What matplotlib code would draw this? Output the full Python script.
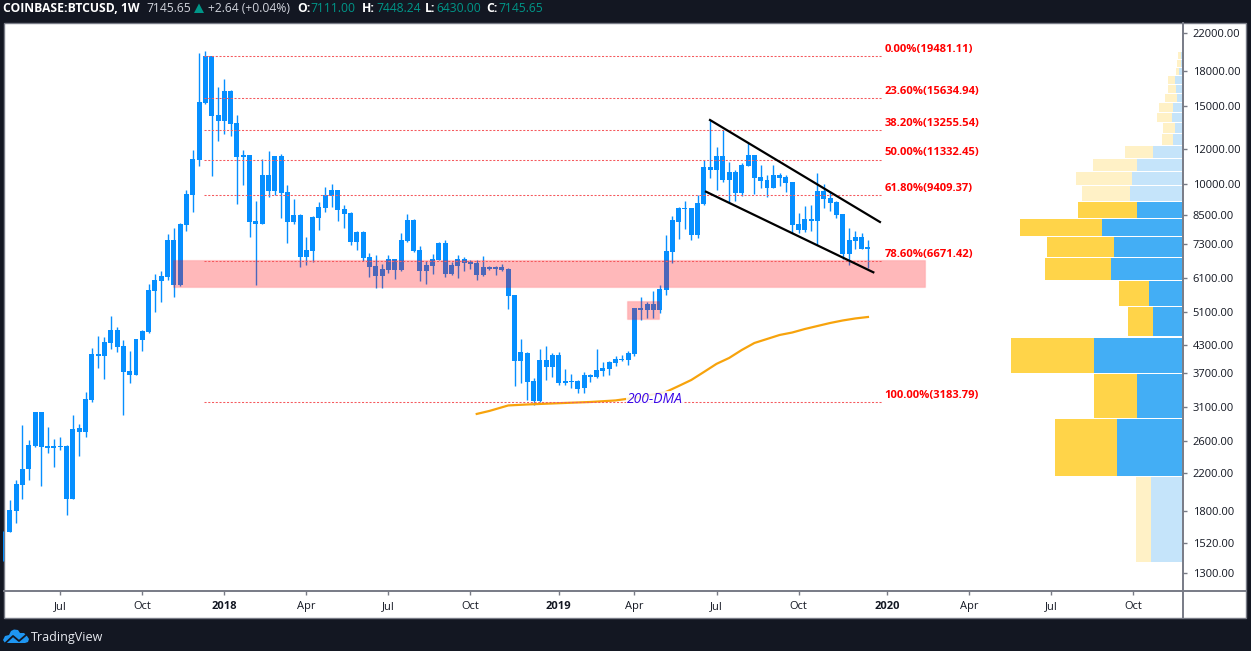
import numpy as np
import matplotlib
matplotlib.use('Agg')
import matplotlib.pyplot as plt
from matplotlib.lines import Line2D
from matplotlib.patches import Polygon, Rectangle
from matplotlib.ticker import FixedLocator, NullLocator, FuncFormatter

W, H = 1251, 651

#candles, all the same colour so only the body and wick ends are kept
body_top = [1600, 1809, 2072, 2242, 2543, 3022, 3022, 2529, 2529, 2533, 2529, 2765, 2779, 3235, 4095, 4095,
            4360, 4643, 4643, 4270, 3746, 4429, 4619, 5725, 6033, 6161, 7439, 7439, 8090, 9466, 11370, 15326,
            19502, 19502, 14317, 16235, 16235, 13730, 11611, 11611, 8218, 10456, 10456, 11550, 11550, 9566, 8480, 8480,
            7059, 8392, 8843, 9417, 9666, 9666, 8751, 8569, 7758, 7758, 6805, 6492, 6391, 6734, 6734, 7439,
            8261, 8261, 7059, 6526, 6734, 7323, 7323, 6526, 6734, 6734, 6629, 6595, 6458, 6458, 6458, 6458,
            6391, 5577, 4138, 4116, 3554, 3968, 3968, 4073, 4073, 3554, 3554, 3554, 3668, 3668, 3765, 3806,
            3927, 3989, 3989, 4116, 5211, 5211, 5320, 5320, 5755, 7022, 8261, 8797, 8797, 8797, 9030, 10904,
            10904, 11550, 11550, 10621, 10621, 11019, 11611, 11611, 10347, 10186, 10456, 10456, 10347, 10080, 8090, 8304,
            8304, 9616, 9616, 9270, 9078, 8525, 7439, 7557, 7557, 7171]
body_bottom = [1600, 1615, 1802, 2065, 2242, 2529, 2516, 2503, 2503, 2516, 1916, 1916, 2721, 2721, 3218, 4052,
               4052, 4337, 4248, 3726, 3668, 3668, 4406, 4595, 5695, 6002, 6128, 5877, 5877, 8048, 9417, 11311,
               15246, 14242, 13874, 13874, 13658, 11490, 11490, 8175, 8090, 8090, 9616, 9616, 9516, 8175, 8175, 6805,
               6805, 7022, 8348, 8797, 9368, 8705, 8525, 7362, 7362, 6770, 6458, 6161, 6161, 6357, 6357, 6357,
               7400, 7022, 6324, 6324, 6492, 6699, 6225, 6225, 6492, 6595, 6560, 6193, 6193, 6391, 6391, 6357,
               5548, 3947, 3947, 3536, 3201, 3201, 3826, 3826, 3517, 3517, 3536, 3409, 3426, 3630, 3630, 3746,
               3786, 3906, 3968, 3968, 4095, 5156, 5156, 5156, 5156, 5725, 6986, 8175, 8751, 7637, 7637, 8983,
               10733, 10733, 10186, 10186, 9516, 9516, 10961, 10293, 10133, 9768, 9768, 10293, 10027, 8048, 7839, 7839,
               8218, 8218, 9222, 9030, 8480, 6913, 6913, 7400, 7096, 7096]
wick_top = [1621, 1906, 2116, 2823, 2610, 3022, 3022, 2794, 2624, 2651, 2543, 2975, 2838, 3357, 4226, 4500,
            4477, 4996, 4716, 4406, 4159, 4429, 4643, 5908, 6225, 6324, 7677, 7922, 8132, 9666, 11919, 19811,
            20020, 19502, 16579, 17288, 16320, 14317, 11919, 11611, 9125, 11370, 11857, 11550, 11672, 9923, 9222, 8525,
            7557, 8436, 9078, 9820, 9975, 9666, 8936, 8614, 7798, 7798, 6949, 6877, 6560, 6877, 6734, 7717,
            8525, 8304, 7209, 6664, 6913, 7362, 7439, 6629, 6877, 6805, 6699, 6699, 6841, 6492, 6492, 6560,
            6424, 5577, 4429, 4138, 3611, 4204, 4270, 4116, 4138, 3786, 3687, 3573, 3726, 3687, 4204, 3927,
            3947, 4052, 4073, 4159, 5211, 5519, 5377, 5695, 5877, 7637, 8436, 8843, 9125, 8797, 9417, 11311,
            13947, 12108, 13235, 11193, 10733, 11135, 12364, 11611, 11019, 10456, 11019, 10566, 10456, 10080, 8569, 8889,
            8936, 10566, 9975, 9616, 9125, 8525, 7922, 7798, 7717, 7448]
wick_bottom = [1385, 1612, 1693, 1916, 2116, 2516, 2051, 2437, 2265, 2476, 1762, 1916, 2399, 2651, 3184, 3806,
               3592, 4204, 4138, 2975, 3517, 3668, 4159, 4571, 5102, 5377, 6033, 5519, 5846, 7798, 8614, 10961,
               15166, 10401, 12494, 12961, 12826, 8983, 9923, 7557, 5877, 8090, 9319, 9417, 8348, 7323, 8090, 6458,
               6526, 6629, 7839, 8614, 8843, 8218, 7922, 7247, 7059, 6664, 6128, 5785, 5785, 6258, 6065, 6324,
               7362, 6986, 6002, 5908, 6225, 6699, 6128, 6193, 6096, 6324, 6391, 6033, 6161, 6357, 6193, 6324,
               5183, 3462, 3517, 3218, 3135, 3184, 3573, 3630, 3481, 3481, 3426, 3338, 3338, 3536, 3611, 3649,
               3668, 3846, 3947, 3866, 4052, 4892, 4945, 4945, 5075, 5577, 6595, 7478, 7881, 7439, 7517, 8936,
               10293, 9666, 10080, 9078, 9125, 9368, 10961, 9466, 9768, 9319, 9768, 9871, 9566, 7717, 7717, 7758,
               7798, 7247, 8797, 8660, 8348, 6734, 6526, 7096, 7096, 6430]
first_week = -1

x_tick_weeks = [8, 21, 34, 47, 60, 73, 87, 99, 112, 125, 139, 152, 165, 178]
x_tick_labels = ['Jul', 'Oct', '2018', 'Apr', 'Jul', 'Oct', '2019', 'Apr', 'Jul', 'Oct', '2020', 'Apr', 'Jul', 'Oct']
y_ticks = [22000, 18000, 15000, 12000, 10000, 8500, 7300, 6100, 5100, 4300, 3700, 3100, 2600, 2200, 1800, 1520, 1300]

#fib levels
fib_names = ['0.00%', '23.60%', '38.20%', '50.00%', '61.80%', '78.60%', '100.00%']
fib_prices = [19481.11, 15634.94, 13255.54, 11332.45, 9409.37, 6671.42, 3183.79]

#200 dma, read every few weeks
dma_weeks = [74, 76, 79, 82, 88, 92, 96, 100, 104, 106, 108, 110, 112, 114, 116, 118, 120, 122, 124, 126, 128, 130, 132, 134, 136]
dma_values = [2991, 3038, 3127, 3143, 3168, 3184, 3210, 3269, 3357, 3462, 3573, 3726, 3888, 4010, 4181, 4337,
              4429, 4523, 4582, 4667, 4741, 4816, 4880, 4932, 4970]

#drawn trend channel
channel_top_weeks = [110.97, 137.9]
channel_top_prices = [13947, 8175]
channel_low_weeks = [110.33, 136.85]
channel_low_prices = [9581, 6281]

#pink boxes
zone_weeks = [[25.9, 145.0], [97.86, 102.9]]
zone_prices = [[5816, 6716], [4918, 5405]]

#volume profile rows
vp_high = [19915, 19098, 18315, 17563, 16753, 15982, 15246, 14468, 13730, 12961, 12172, 11370, 10621, 9871,
           9078, 8304, 7557, 6770, 6002, 5238, 4452, 3693, 2913, 2149]
vp_low = [19198, 18411, 17655, 16841, 16066, 15326, 14544, 13802, 13029, 12235, 11430, 10677, 9923, 9125,
          8348, 7597, 6805, 6033, 5265, 4490, 3712, 2928, 2164, 1380]
vp_up = [1, 1, 3.3, 7.3, 6.3, 5.3, 9, 10, 7, 9, 28.7, 45, 50, 52, 45, 80, 68, 71, 33, 29, 88.3, 45, 65, 31]
vp_down = [2.7, 4, 3, 6.7, 8, 11.7, 14, 15, 12, 11, 28.3, 44, 56, 48, 58.7, 82, 66.7, 66, 29.7, 25, 82.7, 43.3, 62, 14.7]
vp_value_area = [0] * 14 + [1] * 9 + [0]

CANDLE = '#068fff'
GREY = '#787b86'
TEAL = '#009688'
BG = '#131722'

plt.rcParams['font.family'] = ['Open Sans', 'DejaVu Sans']


def px_x(x):
    return x / W


def px_y(y):
    return 1 - y / H


fig = plt.figure(figsize=(W / 100, H / 100), dpi=100, facecolor=BG)

#white panel behind the chart
fig.patches.append(Rectangle((px_x(3.5), px_y(618)), px_x(1246 - 3.5), (618 - 22.5) / H, transform=fig.transFigure,
                             facecolor='white', edgecolor=GREY, linewidth=1, figure=fig, zorder=-1))

# px = 9.8 + 6.31 * week
ax = fig.add_axes([px_x(2.5), px_y(591), px_x(1183 - 2.5), (591 - 23) / H])
ax.patch.set_alpha(0)
ax.set_yscale('log')
ax.set_xlim((2.5 - 9.8) / 6.31, (1183 - 9.8) / 6.31)
ax.set_ylim(1183, 23183)

weeks = np.arange(first_week, first_week + len(body_top))
top = np.array(body_top, dtype=float)
bottom = np.array(body_bottom, dtype=float)
wicks = ax.vlines(weeks, wick_bottom, wick_top, color=CANDLE, linewidth=1.0, zorder=2)
wicks.set_snap(True)
ax.bar(weeks, top - bottom, bottom=bottom, width=0.79, color=CANDLE, linewidth=0, zorder=2)

for (w0, w1), (p0, p1) in zip(zone_weeks, zone_prices):
    ax.add_patch(Rectangle((w0, p0), w1 - w0, p1 - p0, facecolor=(1, 0, 0.03, 0.28), edgecolor=(1, 0, 0.03, 0.1),
                           linewidth=1, zorder=3))

ax.plot(dma_weeks, dma_values, color='#f7a30c', linewidth=1.6, zorder=4)

for name, price in zip(fib_names, fib_prices):
    ax.plot([30.8, 138.2], [price, price], color='#f55a5f', linewidth=0.75, linestyle=(0, (2, 1.6)), zorder=5)
    ax.annotate('%s(%.2f)' % (name, price), (138.6, price), xytext=(0, 4.8), textcoords='offset points',
                color='#ff0000', fontsize=8.1, fontweight='bold', va='center', ha='left', zorder=7)

ax.plot(channel_top_weeks, channel_top_prices, color='black', linewidth=1.6, zorder=6)
ax.plot(channel_low_weeks, channel_low_prices, color='black', linewidth=1.6, zorder=6)

ax.annotate('200-DMA', (97.8, 3183.79), xytext=(0, 2.0), textcoords='offset points', color='#3a06e8', fontsize=10,
            fontstyle='italic', va='center', ha='left', zorder=6,
            bbox=dict(facecolor='white', edgecolor='none', alpha=0.85, pad=0.5))

#volume profile, right aligned on its own x scale (1 unit = 1 px)
vp = ax.twiny()
vp.set_xlim(1182 - 2.5, 1182 - 1183)
vp.set_axis_off()
for up, down, hi, lo, strong in zip(vp_up, vp_down, vp_high, vp_low, vp_value_area):
    vp.barh(lo, up, height=hi - lo, align='edge', color='#43aef5' if strong else '#c5e4fa', linewidth=0)
    vp.barh(lo, down, left=up, height=hi - lo, align='edge', color='#ffd449' if strong else '#fff1c6', linewidth=0)

#axes
ax.yaxis.tick_right()
ax.yaxis.set_major_locator(FixedLocator(y_ticks))
ax.yaxis.set_minor_locator(NullLocator())
ax.yaxis.set_major_formatter(FuncFormatter(lambda v, pos: '%.2f' % v))
ax.set_xticks(x_tick_weeks)
ax.set_xticklabels(x_tick_labels)
ax.tick_params(axis='x', length=3, width=1, color=GREY, labelsize=8, labelcolor=BG, pad=4.5)
ax.tick_params(axis='y', length=3, width=1, color=GREY, labelsize=8, labelcolor=BG, pad=4)
for lab in ax.get_xticklabels():
    if lab.get_text().startswith('20'):
        lab.set_fontweight('bold')
for side in ax.spines:
    ax.spines[side].set_visible(False)

#frame lines of the chart
fig.add_artist(Line2D([px_x(3.5), px_x(1246)], [px_y(591), px_y(591)], color=GREY, linewidth=1.4))
fig.add_artist(Line2D([px_x(1183), px_x(1183)], [px_y(23), px_y(618)], color=GREY, linewidth=1.4))

#header
LIGHT = '#d1d4dc'
header = [(3, 'COINBASE:BTCUSD, 1W', 'white', 'bold'), (146, '7145.65', LIGHT, 'normal'),
          (208, '+2.64 (+0.04%)', LIGHT, 'normal'), (297, 'O:', 'white', 'bold'), (310, '7111.00', TEAL, 'normal'),
          (362, 'H:', 'white', 'bold'), (376, '7448.24', TEAL, 'normal'), (425, 'L:', 'white', 'bold'),
          (436, '6430.00', TEAL, 'normal'), (486, 'C:', 'white', 'bold'), (498, '7145.65', TEAL, 'normal')]
for x, s, c, fw in header:
    fig.text(px_x(x), px_y(8.5), s, color=c, fontweight=fw, fontsize=8.7, va='center', ha='left')
fig.patches.append(Polygon([(px_x(194), px_y(13)), (px_x(204), px_y(13)), (px_x(199), px_y(3.5))],
                           transform=fig.transFigure, facecolor=TEAL, edgecolor='none', figure=fig))

#footer logo
cloud = [(3, 640), (5, 636), (9, 635), (11, 631), (14, 629.5), (18, 630), (20, 633), (24, 633), (27, 636), (29, 639),
         (28, 642), (25, 643), (5, 643)]
fig.patches.append(Polygon([(px_x(a), px_y(b)) for a, b in cloud], transform=fig.transFigure, facecolor='#1e96f2',
                           edgecolor='none', figure=fig))
fig.add_artist(Line2D([px_x(a) for a in (5, 13, 19, 26)], [px_y(b) for b in (643.5, 636, 641, 635)], color=BG, linewidth=1.3))
fig.text(px_x(31), px_y(637), 'TradingView', color='#e8eaf0', fontsize=9, va='center', ha='left')

fig.savefig('out.png', dpi=100, facecolor=fig.get_facecolor())
